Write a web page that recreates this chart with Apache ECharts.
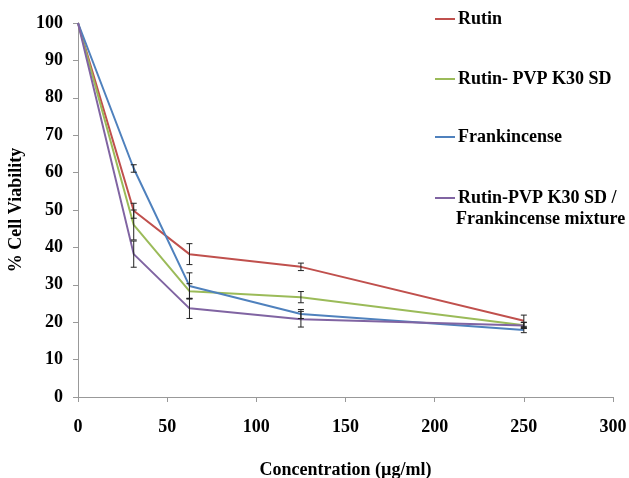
<!DOCTYPE html>
<html><head><meta charset="utf-8">
<script src="https://cdn.jsdelivr.net/npm/echarts@6/dist/echarts.min.js"></script>
<style>html,body{margin:0;padding:0;background:#fff}#c{width:629px;height:478px}</style>
</head><body><div id="c"></div>
<script>
var conc = [0, 31.25, 62.5, 125, 250];
var names = ['Rutin', 'Rutin- PVP K30 SD', 'Frankincense', 'Rutin-PVP K30 SD / Frankincense mixture'];
var rutin = [100, 49.8, 38.2, 34.8, 20.4];
var rutinErr = [0, 2.0, 2.8, 1.0, 1.5];
var rutinPvp = [100, 46.0, 28.3, 26.7, 19.2];
var rutinPvpErr = [0, 4.0, 2.0, 1.5, 0.8];
var frank = [100, 61.1, 29.7, 22.2, 17.9];
var frankErr = [0, 1.0, 3.5, 1.2, 0.7];
var mix = [100, 38.2, 23.7, 20.8, 19.1];
var mixErr = [0, 3.5, 2.7, 2.1, 0.8];
var colors = ['#C0504D', '#9BBB59', '#4F81BD', '#8064A2'];
var yTicks = [0, 10, 20, 30, 40, 50, 60, 70, 80, 90, 100];
var xTicks = [0, 50, 100, 150, 200, 250, 300];

var allVals = [rutin, rutinPvp, frank, mix];
var allErr = [rutinErr, rutinPvpErr, frankErr, mixErr];
var font = '"Liberation Serif", "Times New Roman", serif';

var series = [];
allVals.forEach(function (v, i) {
  series.push({
    name: names[i], type: 'line', data: conc.map(function (c, j) { return [c, v[j]]; }),
    symbol: 'none', lineStyle: { color: colors[i], width: 2 }, itemStyle: { color: colors[i] }, z: 2
  });
});
var errData = [];
allVals.forEach(function (v, i) {
  conc.forEach(function (c, j) { if (allErr[i][j] > 0) errData.push([c, v[j] - allErr[i][j], v[j] + allErr[i][j]]); });
});
series.push({
  type: 'custom', name: 'err', z: 3, silent: true,
  data: errData,
  renderItem: function (params, api) {
    var lo = api.coord([api.value(0), api.value(1)]);
    var hi = api.coord([api.value(0), api.value(2)]);
    var w = 3;
    var st = { stroke: '#222', lineWidth: 1 };
    return { type: 'group', children: [
      { type: 'line', shape: { x1: lo[0], y1: lo[1], x2: hi[0], y2: hi[1] }, style: st },
      { type: 'line', shape: { x1: lo[0] - w, y1: lo[1], x2: lo[0] + w, y2: lo[1] }, style: st },
      { type: 'line', shape: { x1: hi[0] - w, y1: hi[1], x2: hi[0] + w, y2: hi[1] }, style: st }
    ]};
  }
});

var legendTops = [9, 69, 127, 188];
var legends = names.map(function (n, i) {
  return {
    data: [n], left: 435, top: legendTops[i], orient: 'vertical',
    icon: 'rect', itemWidth: 20, itemHeight: 2, itemGap: 0, padding: 0,
    selectedMode: false,
    formatter: i === 3 ? function () { return 'Rutin-PVP K30 SD /'; } : undefined,
    textStyle: { fontFamily: font, fontWeight: 'bold', fontSize: 18, lineHeight: 20, color: '#000', padding: [0, 0, 0, -2] }
  };
});

var chart = echarts.init(document.getElementById('c'));
chart.setOption({
  animation: false,
  backgroundColor: '#fff',
  grid: { left: 78, right: 16, top: 23, bottom: 81, containLabel: false, outerBoundsMode: 'none' },
  legend: legends,
  graphic: [{
    type: 'text', left: 456, top: 210,
    style: { text: 'Frankincense mixture', font: 'bold 18px ' + font, fill: '#000' }
  }],
  xAxis: {
    type: 'value', min: 0, max: 300, interval: 50,
    name: 'Concentration (µg/ml)', nameLocation: 'middle', nameGap: 64,
    nameTextStyle: { fontFamily: font, fontWeight: 'bold', fontSize: 18, color: '#000' },
    axisLine: { show: true, lineStyle: { color: '#999' } },
    axisTick: { show: true, length: 5, lineStyle: { color: '#999' } },
    splitLine: { show: false },
    axisLabel: { fontFamily: font, fontWeight: 'bold', fontSize: 18, color: '#000', margin: 21,
      formatter: function (v) { return xTicks.indexOf(v) >= 0 ? String(v) : ''; } }
  },
  yAxis: {
    type: 'value', min: 0, max: 100, interval: 10,
    name: '% Cell Viability', nameLocation: 'middle', nameGap: 51,
    nameTextStyle: { fontFamily: font, fontWeight: 'bold', fontSize: 18, color: '#000' },
    axisLine: { show: true, lineStyle: { color: '#999' } },
    axisTick: { show: true, length: 5, lineStyle: { color: '#999' } },
    splitLine: { show: false },
    axisLabel: { fontFamily: font, fontWeight: 'bold', fontSize: 18, color: '#000', margin: 15,
      formatter: function (v) { return yTicks.indexOf(v) >= 0 ? String(v) : ''; } }
  },
  series: series
});
</script></body></html>
